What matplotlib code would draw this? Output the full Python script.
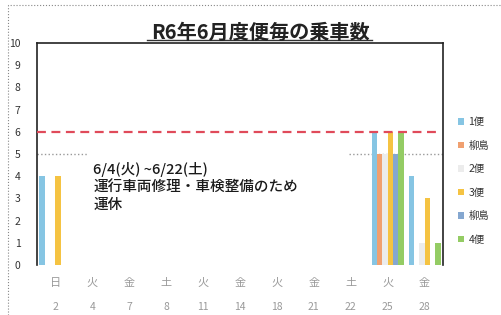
import matplotlib
matplotlib.use("Agg")
import matplotlib.pyplot as plt
import numpy as np
from matplotlib.lines import Line2D

plt.rcParams['font.family'] = ['Noto Sans CJK JP', 'DejaVu Sans']

days = ['2', '4', '7', '8', '11', '14', '18', '21', '22', '25', '28']
weekdays = ['日', '火', '金', '土', '火', '金', '火', '金', '土', '火', '金']
series_names = ['1便', '柳島', '2便', '3便', '柳島', '4便']
bin1 = [4, 0, 0, 0, 0, 0, 0, 0, 0, 6, 4]
yanagi1 = [0, 0, 0, 0, 0, 0, 0, 0, 0, 5, 0]
bin2 = [0, 0, 0, 0, 0, 0, 0, 0, 0, 5, 1]
bin3 = [4, 0, 0, 0, 0, 0, 0, 0, 0, 6, 3]
yanagi2 = [0, 0, 0, 0, 0, 0, 0, 0, 0, 5, 0]
bin4 = [0, 0, 0, 0, 0, 0, 0, 0, 0, 6, 1]
series_values = [bin1, yanagi1, bin2, bin3, yanagi2, bin4]
colors = ['#86c5e3', '#f0a070', '#ececec', '#f5c342', '#85a7d0', '#94cc64']
capacity = 6
ref_line = 5

fig = plt.figure(figsize=(5.02, 3.15), dpi=100)
ax = fig.add_axes([0.0737, 0.1587, 0.8088, 0.7048])

x = np.arange(len(days))
n = len(series_values)
w = 0.145
for i, (name, vals, c) in enumerate(zip(series_names, series_values, colors)):
    ax.bar(x + (i - (n - 1) / 2) * w, vals, width=w, color=c, label=name, zorder=2)

ax.set_xlim(-0.5, len(days) - 0.5)
ax.set_ylim(0, 10)
ax.set_yticks(range(0, 11))
ax.tick_params(axis='y', length=0, pad=12, labelsize=7.5, labelcolor='#333333')
ax.set_xticks([])

for s in ['left', 'right', 'top']:
    ax.spines[s].set_color('#222222')
    ax.spines[s].set_linewidth(1.2)
ax.spines['bottom'].set_visible(False)

# capacity line
ax.axhline(capacity, color='#e04a5a', linestyle=(0, (4, 2.5)), linewidth=1.6, xmax=0.99, zorder=3)
# reference dotted segments
ax.hlines(ref_line, -0.5, 0.85, colors='#999999', linestyles=':', linewidth=1.0, zorder=1)
ax.hlines(ref_line, 7.95, 10.5, colors='#999999', linestyles=':', linewidth=1.0, zorder=1)

for i, (wd, d) in enumerate(zip(weekdays, days)):
    ax.text(i, -0.08, wd, transform=ax.get_xaxis_transform(), ha='center', va='center',
            fontsize=8, color='#999999')
    ax.text(i, -0.19, d, transform=ax.get_xaxis_transform(), ha='center', va='center',
            fontsize=7.5, color='#999999')

ax.text(1.02, 4.62, '6/4(火) ~6/22(土)\n運行車両修理・車検整備のため\n運休',
        ha='left', va='top', fontsize=10.5, linespacing=1.3, color='#1a1a1a', fontweight='medium')

leg = ax.legend(loc='upper left', bbox_to_anchor=(0.902, 0.645), bbox_transform=fig.transFigure,
                frameon=False, fontsize=7.5, handlelength=0.6, handleheight=0.6,
                handletextpad=0.4, labelspacing=1.3, borderpad=0)
for t in leg.get_texts():
    t.set_color('#333333')

fig.text(0.518, 0.898, 'R6年6月度便毎の乗車数', ha='center', va='center',
         fontsize=14.5, fontweight='bold', color='#222222')
fig.add_artist(Line2D([0.293, 0.742], [0.873, 0.873], transform=fig.transFigure,
                      color='#333333', linewidth=1.0))

# outer frame
fig.add_artist(Line2D([0.016, 0.016, 1.0], [0.0, 0.984, 0.984], transform=fig.transFigure,
                      color='#888888', linewidth=0.8, linestyle=':'))

fig.savefig('out.png', dpi=100)
